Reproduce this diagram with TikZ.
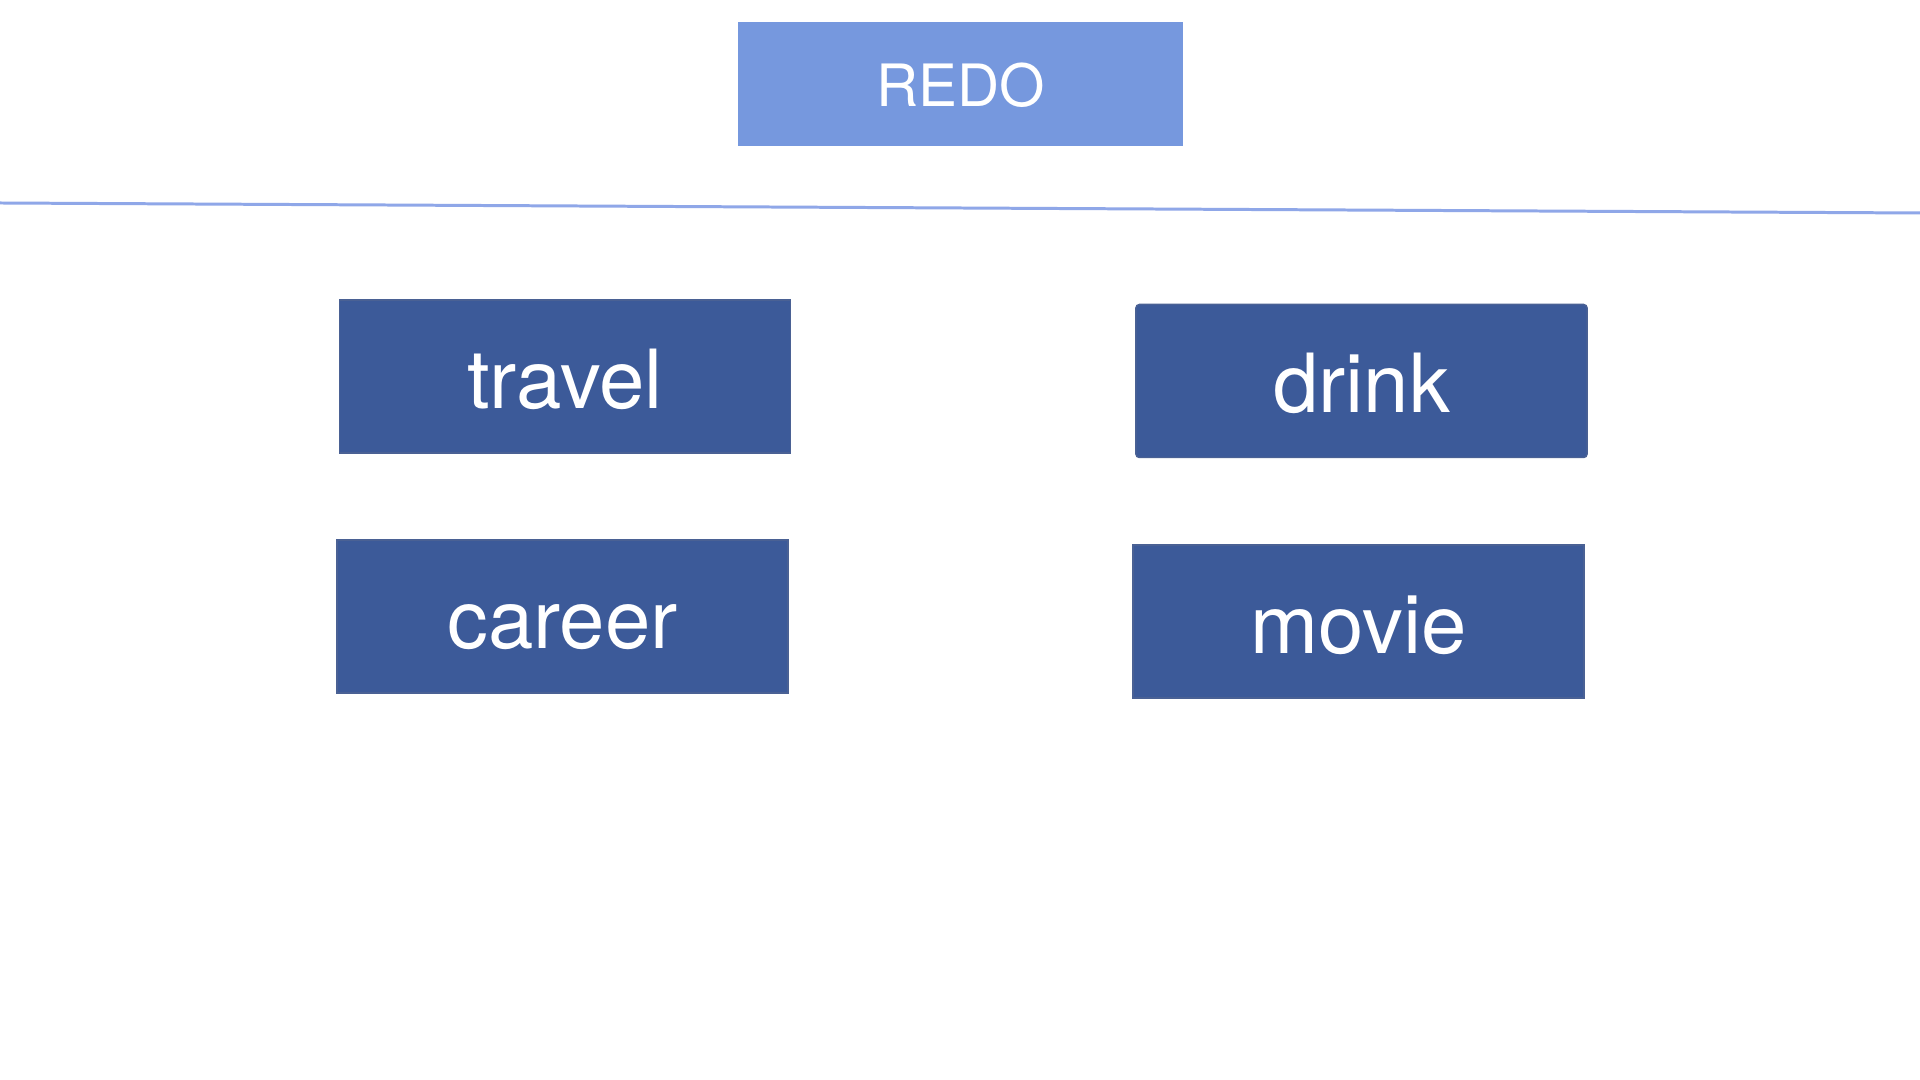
\documentclass[tikz,border=0pt]{standalone}
\usepackage{fontspec}
\setmainfont{TeX Gyre Heros}
\usepackage{tikz}
\definecolor{redoblue}{HTML}{7698DE}
\definecolor{topicblue}{HTML}{3C5A99}
\definecolor{ruleblue}{HTML}{8FA7E8}

\begin{document}
\begin{tikzpicture}[
    x=0.01cm, y=-0.01cm,
    box/.style={rectangle, fill=topicblue, draw=topicblue!80!gray, line width=0.4pt, text=white, text centered, minimum width=4.51cm, minimum height=1.53cm, inner sep=0pt, font=\fontsize{23.2}{28}\selectfont, text height=0.63cm, text depth=0pt},
    redo/.style={rectangle, fill=redoblue, draw=none, text=white, text centered, minimum width=4.45cm, minimum height=1.24cm, inner sep=0pt, font=\fontsize{16.6}{20}\selectfont, text height=0.45cm, text depth=0pt},
    ]
  \useasboundingbox (0,0) rectangle (1920,1080);
  \fill[white] (0,0) rectangle (1920,1080);
      \node [redo] (redo) at (960.5,84) {REDO};
      \coordinate (ruleL) at (0,203);
      \coordinate (ruleR) at (1920,213);
      \draw [ruleblue, line width=0.85pt] (ruleL) -- (ruleR);
      \node [box] (travel) at (565,376.5) {travel};
      \node [box, rounded corners=1pt] (drink) at (1361.5,381) {drink};
      \node [box] (career) at (562.5,616.5) {career};
      \node [box] (movie) at (1358.5,621.5) {movie};
  \end{tikzpicture}
\end{document}
